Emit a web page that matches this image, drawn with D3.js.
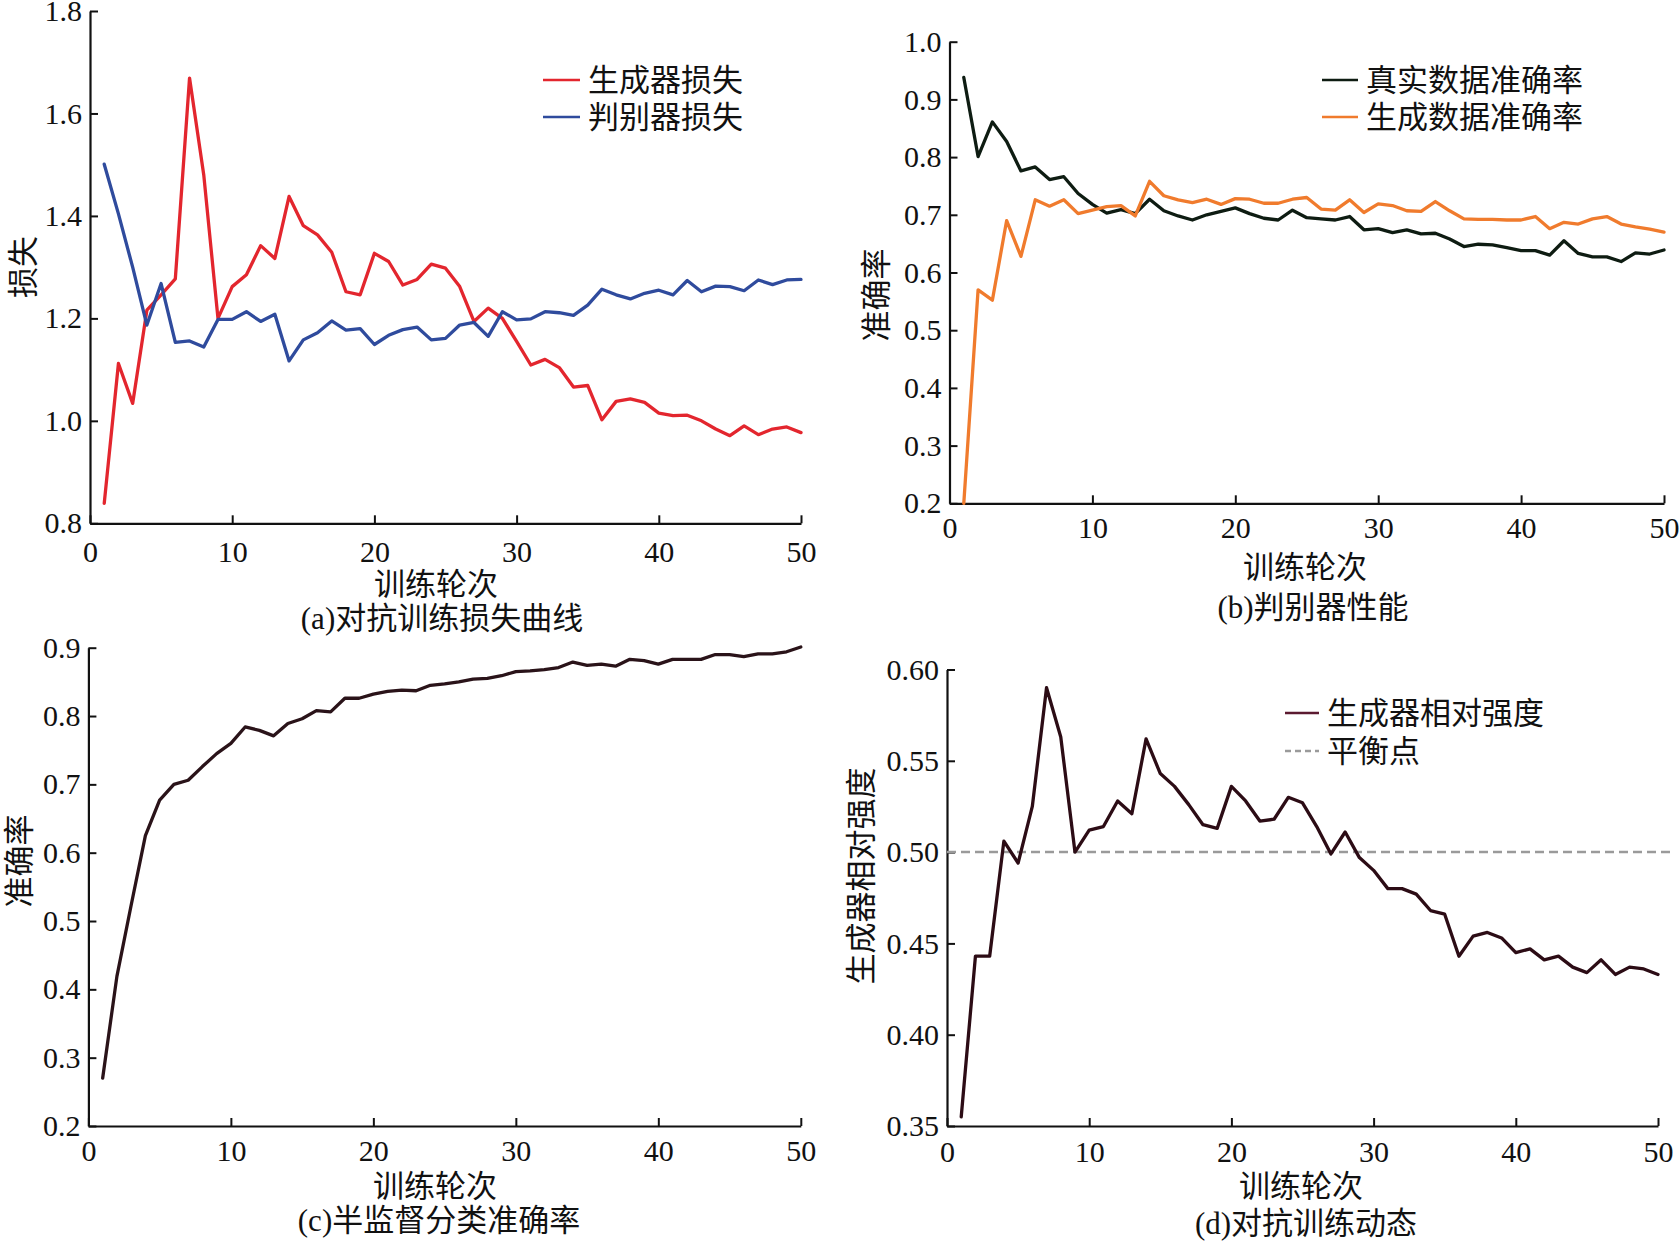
<!DOCTYPE html>
<html><head><meta charset="utf-8">
<script src="https://cdn.jsdelivr.net/npm/d3@7"></script>
<style>
html,body{margin:0;padding:0;background:#fff;}
svg{display:block;}
text{font-family:"Liberation Serif","Noto Sans CJK SC",serif;fill:#111;}
</style></head>
<body>
<svg id="chart" width="1680" height="1241"></svg>
<script>
// ---------- data ----------
const epochs = d3.range(1, 51);
const xTicks = [0, 10, 20, 30, 40, 50];

const genLoss = [0.839,1.112,1.034,1.216,1.246,1.277,1.669,1.48,1.200,1.262,
  1.285,1.342,1.317,1.438,1.381,1.363,1.329,1.252,1.246,1.327,
  1.311,1.265,1.276,1.306,1.298,1.262,1.194,1.220,1.200,1.155,
  1.109,1.120,1.104,1.066,1.069,1.002,1.038,1.043,1.036,1.015,
  1.010,1.011,1.000,0.984,0.971,0.990,0.973,0.984,0.988,0.977];
const discLoss = [1.501,1.404,1.300,1.187,1.268,1.153,1.156,1.144,1.198,1.198,
  1.213,1.194,1.208,1.117,1.158,1.172,1.195,1.177,1.180,1.149,
  1.167,1.178,1.183,1.158,1.161,1.187,1.192,1.165,1.213,1.197,
  1.199,1.213,1.211,1.206,1.226,1.257,1.246,1.238,1.249,1.255,
  1.246,1.274,1.252,1.263,1.262,1.254,1.275,1.266,1.275,1.276];
const lossTicks = [0.8, 1.0, 1.2, 1.4, 1.6, 1.8];

const realAcc = [0.938,0.801,0.861,0.827,0.776,0.783,0.761,0.766,0.737,0.718,
  0.703,0.709,0.702,0.727,0.707,0.698,0.691,0.700,0.706,0.712,
  0.702,0.694,0.691,0.708,0.695,0.693,0.691,0.697,0.674,0.676,
  0.669,0.674,0.667,0.668,0.658,0.645,0.649,0.648,0.643,0.638,
  0.638,0.630,0.655,0.633,0.627,0.627,0.619,0.634,0.632,0.639];
const fakeAcc = [0.200,0.570,0.552,0.690,0.628,0.726,0.715,0.726,0.702,0.708,
  0.714,0.716,0.698,0.758,0.733,0.726,0.721,0.727,0.718,0.728,
  0.727,0.720,0.720,0.727,0.730,0.710,0.708,0.726,0.704,0.719,
  0.716,0.707,0.706,0.723,0.707,0.693,0.692,0.692,0.691,0.691,
  0.697,0.676,0.687,0.684,0.693,0.697,0.684,0.679,0.675,0.670];
const discTicks = [0.2,0.3,0.4,0.5,0.6,0.7,0.8,0.9,1.0];

const semiAcc = [0.270,0.419,0.523,0.625,0.677,0.700,0.706,0.726,0.745,0.760,
  0.784,0.779,0.771,0.789,0.796,0.808,0.806,0.826,0.826,0.832,
  0.836,0.838,0.837,0.845,0.847,0.850,0.854,0.855,0.859,0.865,
  0.866,0.868,0.871,0.879,0.874,0.876,0.873,0.883,0.881,0.876,
  0.883,0.883,0.883,0.890,0.890,0.887,0.891,0.891,0.894,0.901];
const semiTicks = [0.2,0.3,0.4,0.5,0.6,0.7,0.8,0.9];

const genStrength = [0.355,0.443,0.443,0.506,0.494,0.525,0.590,0.563,0.500,0.512,
  0.514,0.528,0.521,0.562,0.543,0.536,0.526,0.515,0.513,0.536,
  0.528,0.517,0.518,0.530,0.527,0.514,0.499,0.511,0.497,0.490,
  0.480,0.480,0.477,0.468,0.466,0.443,0.454,0.456,0.453,0.445,
  0.447,0.441,0.443,0.437,0.434,0.441,0.433,0.437,0.436,0.433];
const balancePoint = 0.50;
const strengthTicks = [0.35,0.40,0.45,0.50,0.55,0.60];

const xLabel = "训练轮次";

// ---------- drawing ----------
const svg = d3.select("#chart");
svg.append("rect").attr("width",1680).attr("height",1241).attr("fill","#fff");

function panel(cfg){
  const g = svg.append("g");
  const x = d3.scaleLinear().domain([0,50]).range([cfg.x0, cfg.x1]);
  const y = d3.scaleLinear().domain(cfg.yDomain).range([cfg.yb, cfg.yt]);

  const xa = g.append("g").attr("transform",`translate(0,${cfg.yb})`)
    .call(d3.axisBottom(x).tickValues(xTicks).tickFormat(d3.format("d"))
      .tickSizeInner(-8).tickSizeOuter(0).tickPadding(cfg.xPad));
  const ya = g.append("g").attr("transform",`translate(${cfg.x0},0)`)
    .call(d3.axisLeft(y).tickValues(cfg.yTicks).tickFormat(d3.format(cfg.fmt))
      .tickSizeInner(-8).tickSizeOuter(0).tickPadding(8));
  [xa,ya].forEach(a=>{
    a.selectAll("path.domain").attr("stroke","#111").attr("stroke-width",2.2);
    a.selectAll(".tick line").attr("stroke","#111").attr("stroke-width",2);
    a.selectAll("text").attr("font-size",30).attr("font-family","Liberation Serif").attr("fill","#111");
  });

  if (cfg.extra) cfg.extra(g, x, y);

  cfg.series.forEach(s=>{
    const line = d3.line().x((d,i)=>x(epochs[i])).y(d=>y(d));
    g.append("path").datum(s.values).attr("d",line)
      .attr("fill","none").attr("stroke",s.color).attr("stroke-width",3.3)
      .attr("stroke-linejoin","round").attr("stroke-linecap","round");
  });

  // legend
  cfg.legend.forEach((l,i)=>{
    const ly = cfg.legY[i];
    g.append("line").attr("x1",cfg.legX).attr("x2",cfg.legX+cfg.legLen)
      .attr("y1",ly).attr("y2",ly).attr("stroke",l.color).attr("stroke-width",l.w||2.5)
      .attr("stroke-dasharray",l.dash||null);
    g.append("text").attr("x",cfg.legX+cfg.legLen+8).attr("y",ly)
      .attr("dy","0.36em").attr("font-size",31).text(l.label);
  });

  // axis titles
  g.append("text").attr("x",cfg.xlX).attr("y",cfg.xlY).attr("dy","0.36em")
    .attr("text-anchor","middle").attr("font-size",31).text(xLabel);
  g.append("text").attr("transform",`translate(${cfg.ylX},${cfg.ylY}) rotate(-90)`)
    .attr("dy","0.36em").attr("text-anchor","middle").attr("font-size",31).text(cfg.yLabel);
  g.append("text").attr("x",cfg.tX).attr("y",cfg.tY).attr("dy","0.36em")
    .attr("text-anchor","middle").attr("font-size",31).text(cfg.title);
}

panel({
  x0:90, x1:801, yt:11, yb:523.3, yDomain:[0.8,1.8], yTicks:lossTicks, fmt:".1f", xPad:17,
  series:[{values:genLoss,color:"#e3262e"},{values:discLoss,color:"#2f4b9d"}],
  legend:[{label:"生成器损失",color:"#e3262e"},{label:"判别器损失",color:"#2f4b9d"}],
  legX:543, legLen:37, legY:[80,117],
  xlX:436, xlY:584, ylX:23, ylY:267, yLabel:"损失",
  tX:442, tY:618, title:"(a)对抗训练损失曲线"
});

panel({
  x0:949.5, x1:1664, yt:41.7, yb:503.3, yDomain:[0.2,1.0], yTicks:discTicks, fmt:".1f", xPad:13,
  series:[{values:realAcc,color:"#0e1c12"},{values:fakeAcc,color:"#f07b2d"}],
  legend:[{label:"真实数据准确率",color:"#0e1c12"},{label:"生成数据准确率",color:"#f07b2d"}],
  legX:1322, legLen:36, legY:[80,117],
  xlX:1305, xlY:567, ylX:876, ylY:295, yLabel:"准确率",
  tX:1313, tY:607, title:"(b)判别器性能"
});

panel({
  x0:88.4, x1:800.8, yt:647.7, yb:1126, yDomain:[0.2,0.9], yTicks:semiTicks, fmt:".1f", xPad:14,
  series:[{values:semiAcc,color:"#2a1319"}],
  legend:[],
  xlX:435, xlY:1186, ylX:19, ylY:861, yLabel:"准确率",
  tX:439, tY:1220, title:"(c)半监督分类准确率"
});

panel({
  x0:947, x1:1658, yt:669.5, yb:1126, yDomain:[0.35,0.60], yTicks:strengthTicks, fmt:".2f", xPad:15,
  series:[{values:genStrength,color:"#2c0c15"}],
  extra:(g,x,y)=>{
    g.append("line").attr("x1",x(0)).attr("x2",x(50)+15)
      .attr("y1",y(balancePoint)).attr("y2",y(balancePoint))
      .attr("stroke","#9a9a9a").attr("stroke-width",2.5).attr("stroke-dasharray","9,5");
  },
  legend:[{label:"生成器相对强度",color:"#5b1a30"},{label:"平衡点",color:"#9a9a9a",dash:"6,4"}],
  legX:1285, legLen:34, legY:[713,751],
  xlX:1301, xlY:1186, ylX:861, ylY:876, yLabel:"生成器相对强度",
  tX:1306, tY:1223, title:"(d)对抗训练动态"
});
</script>
</body></html>
